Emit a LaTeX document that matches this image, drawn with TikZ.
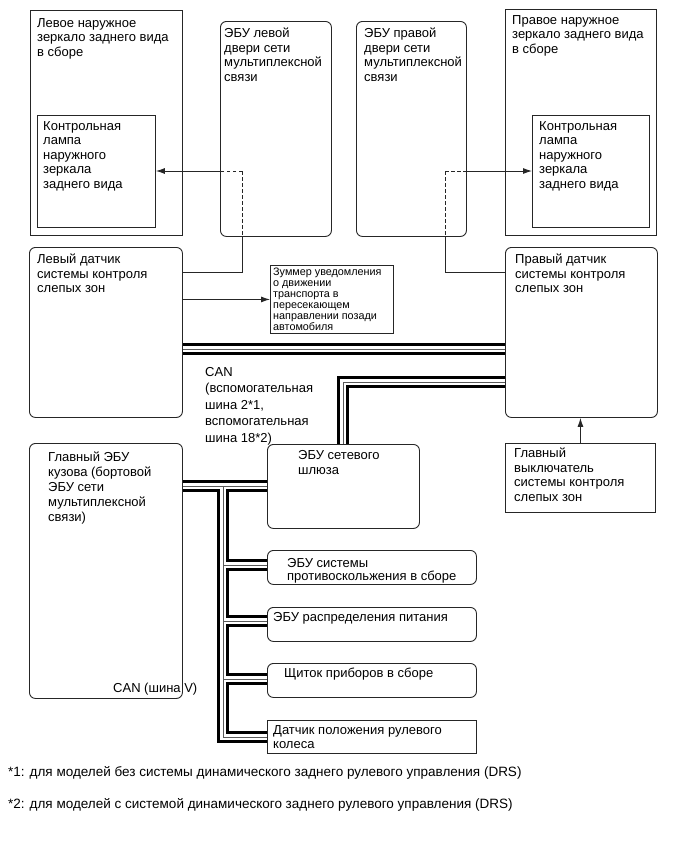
\documentclass[tikz,border=0pt]{standalone}
\usepackage{fontspec}
\setmainfont{Liberation Sans}
\usetikzlibrary{arrows.meta}
\pgfdeclarelayer{bg}
\pgfsetlayers{bg,main}
\begin{document}
\begin{tikzpicture}[x=1pt,y=-1pt,
  sq/.style={draw=black!85, line width=0.9pt, fill=white, rectangle, inner sep=0pt, anchor=north west},
  rd/.style={sq, rounded corners=6pt},
  txt/.style={anchor=north west, inner sep=0pt, align=left, font=\fontsize{13}{14.5}\selectfont},
  smalltxt/.style={txt, font=\fontsize{10.8}{11}\selectfont},
  conn/.style={draw=black!85, line width=0.9pt},
  dsh/.style={conn, dash pattern=on 3.5pt off 2.5pt},
  arr/.style={-{Latex[length=9pt,width=6pt]}}]
\useasboundingbox (0,0) rectangle (690,854);
\begin{pgfonlayer}{bg}
\fill[white] (0,0) rectangle (690,854);
\end{pgfonlayer}

% boxes
\node[sq, minimum width=152, minimum height=225] (lmir) at (30,10) {};
\node[sq, minimum width=118, minimum height=112] (llamp) at (37,115) {};
\node[rd, minimum width=111, minimum height=215] (ldoor) at (220,21) {};
\node[rd, minimum width=110, minimum height=215] (rdoor) at (356,21) {};
\node[sq, minimum width=151, minimum height=226] (rmir) at (505,9) {};
\node[sq, minimum width=117, minimum height=112] (rlamp) at (532,115) {};
\node[rd, minimum width=153, minimum height=170] (lsens) at (29,247) {};
\node[rd, minimum width=152, minimum height=170] (rsens) at (505,247) {};
\node[sq, minimum width=123, minimum height=68] (buzz) at (270,265) {};
\node[rd, minimum width=152, minimum height=84] (gw) at (267,444) {};
\node[rd, minimum width=153, minimum height=255] (body) at (29,443) {};
\node[sq, minimum width=150, minimum height=69] (sw) at (505,443) {};
\node[rd, minimum width=209, minimum height=34] (abs) at (267,550) {};
\node[rd, minimum width=209, minimum height=34] (pwr) at (267,607) {};
\node[rd, minimum width=209, minimum height=34] (inst) at (267,663) {};
\node[sq, minimum width=209, minimum height=33] (steer) at (267,720) {};

% texts
\node[txt] (tlmir) at (37,18) {Левое наружное\\зеркало заднего вида\\в сборе};
\node[txt] (tllamp) at (43,121) {Контрольная\\лампа\\наружного\\зеркала\\заднего вида};
\node[txt] (tldoor) at (224,28) {ЭБУ левой\\двери сети\\мультиплексной\\связи};
\node[txt] (trdoor) at (364,28) {ЭБУ правой\\двери сети\\мультиплексной\\связи};
\node[txt] (trmir) at (512,15) {Правое наружное\\зеркало заднего вида\\в сборе};
\node[txt] (trlamp) at (539,121) {Контрольная\\лампа\\наружного\\зеркала\\заднего вида};
\node[txt] (tlsens) at (37,254) {Левый датчик\\системы контроля\\слепых зон};
\node[txt] (trsens) at (515,254) {Правый датчик\\системы контроля\\слепых зон};
\node[smalltxt] (tbuzz) at (273,268) {Зуммер уведомления\\о движении\\транспорта в\\пересекающем\\направлении позади\\автомобиля};
\node[txt, font=\fontsize{13}{16.5}\selectfont] (tcan) at (205,367) {CAN\\(вспомогательная\\шина 2*1,\\вспомогательная\\шина 18*2)};
\node[txt, font=\fontsize{13}{15}\selectfont] (tbody) at (48,452) {Главный ЭБУ\\кузова (бортовой\\ЭБУ сети\\мультиплексной\\связи)};
\node[txt, font=\fontsize{13}{15}\selectfont] (tgw) at (298,450) {ЭБУ сетевого\\шлюза};
\node[txt] (tsw) at (514,448) {Главный\\выключатель\\системы контроля\\слепых зон};
\node[txt, font=\fontsize{13}{13.5}\selectfont] (tabs) at (287,558) {ЭБУ системы\\противоскольжения в сборе};
\node[txt] (tpwr) at (273,612) {ЭБУ распределения питания};
\node[txt] (tinst) at (284,668) {Щиток приборов в сборе};
\node[txt, font=\fontsize{13}{14}\selectfont] (tsteer) at (273,725) {Датчик положения рулевого\\колеса};
\node[txt] (tcanv) at (113,683) {CAN (шина V)};
\node[txt, font=\fontsize{13.5}{15}\selectfont] (fn1) at (8,766) {*1: для моделей без системы динамического заднего рулевого управления (DRS)};
\node[txt, font=\fontsize{13.5}{15}\selectfont] (fn2) at (8,798) {*2: для моделей с системой динамического заднего рулевого управления (DRS)};

% signal connectors
\coordinate (lj) at (242,171);
\coordinate (lk) at (242,272);
\draw[dsh] (lj) -- (lj -| ldoor.west);
\draw[conn, arr] (lj -| ldoor.west) -- (lj -| llamp.east);
\draw[dsh] (lj) -- (lj |- ldoor.south);
\draw[conn] (lj |- ldoor.south) -- (lk) -- (lk -| lsens.east);

\coordinate (rj) at (445,171);
\coordinate (rk) at (445,272);
\draw[dsh] (rj) -- (rj -| rdoor.east);
\draw[conn, arr] (rj -| rdoor.east) -- (rj -| rlamp.west);
\draw[dsh] (rj) -- (rj |- rdoor.south);
\draw[conn] (rj |- rdoor.south) -- (rk) -- (rk -| rsens.west);

\draw[conn, arr] (buzz.west -| lsens.east) -- (buzz.west);
\draw[conn, arr] (sw.north) -- (sw.north |- rsens.south);

% CAN buses
\coordinate (ya) at (0,349);
\coordinate (yb) at (0,382);
\coordinate (xb) at (343,0);
\coordinate (yc) at (0,486);
\coordinate (xt) at (223,0);
\coordinate (y1) at (0,565);
\coordinate (y2) at (0,621);
\coordinate (y3) at (0,679);
\coordinate (y4) at (0,737);
\begin{pgfonlayer}{bg}
\foreach \lw/\lc in {12pt/black, 6.6pt/white, 1pt/black!65}{
  \draw[line width=\lw, draw=\lc, line join=miter] (lsens.east |- ya) -- (rsens.west |- ya);
  \draw[line width=\lw, draw=\lc, line join=miter] (rsens.west |- yb) -- (xb |- yb) -- (xb |- gw.north);
  \draw[line width=\lw, draw=\lc, line join=miter] (body.east |- yc) -- (gw.west |- yc);
  \draw[line width=\lw, draw=\lc, line join=miter] (xt |- yc) -- (xt |- y4) -- (steer.west |- y4);
  \draw[line width=\lw, draw=\lc, line join=miter] (xt |- y1) -- (abs.west |- y1);
  \draw[line width=\lw, draw=\lc, line join=miter] (xt |- y2) -- (pwr.west |- y2);
  \draw[line width=\lw, draw=\lc, line join=miter] (xt |- y3) -- (inst.west |- y3);
}
\end{pgfonlayer}
\end{tikzpicture}
\end{document}
